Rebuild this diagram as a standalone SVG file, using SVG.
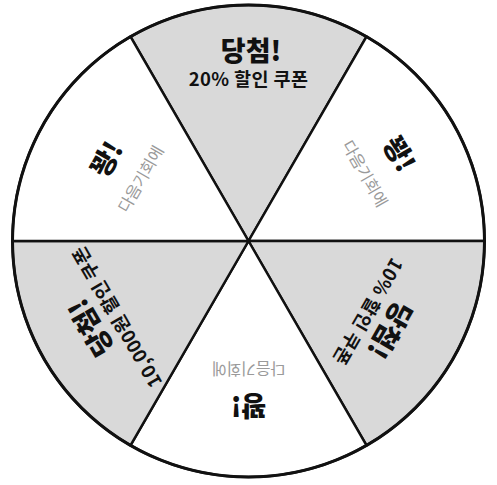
<svg xmlns="http://www.w3.org/2000/svg" width="497" height="485" viewBox="0 0 497 485">
<style>
.win{fill:#d9d9d9}
.lose{fill:#ffffff}
.seg{stroke:#111;stroke-width:2.5;stroke-linejoin:round}
.t{font-family:"Noto Sans CJK KR","Noto Sans",sans-serif;text-anchor:middle;fill:#111}
.title{font-size:27px;font-weight:900}
.sub{font-size:18.5px;font-weight:600;letter-spacing:0.4px}
.next{font-size:16px;font-weight:400;fill:#9a9a9a}
</style>
<rect width="497" height="485" fill="#fff"/>
<g id="connectors">
<path class="seg win" d="M248.5,241 L130.5,36.6 A236,236 0 0 1 366.5,36.6 Z"/>
<path class="seg lose" d="M248.5,241 L366.5,36.6 A236,236 0 0 1 484.5,241 Z"/>
<path class="seg win" d="M248.5,241 L484.5,241 A236,236 0 0 1 366.5,445.4 Z"/>
<path class="seg lose" d="M248.5,241 L366.5,445.4 A236,236 0 0 1 130.5,445.4 Z"/>
<path class="seg win" d="M248.5,241 L130.5,445.4 A236,236 0 0 1 12.5,241 Z"/>
<path class="seg lose" d="M248.5,241 L12.5,241 A236,236 0 0 1 130.5,36.6 Z"/>
<circle cx="248.5" cy="241" r="236" fill="none" stroke="#111" stroke-width="3"/>
</g>
<g id="node-top">
<text class="t title" x="251" y="60.5">당첨!</text>
<text class="t sub" x="248.5" y="86">20% 할인 쿠폰</text>
</g>
<g id="node-top-right" transform="rotate(60 248.5 241)">
<text class="t title" x="248.5" y="77">꽝!</text>
<text class="t next" x="248.5" y="112.5">다음기회에</text>
</g>
<g id="node-bottom-right" transform="rotate(120 248.5 241)">
<text class="t title" x="255" y="84">당첨!</text>
<text class="t sub" x="250" y="109">10% 할인 쿠폰</text>
</g>
<g id="node-bottom" transform="rotate(180 248.5 241)">
<text class="t title" x="248.5" y="86">꽝!</text>
<text class="t next" x="248.5" y="119.5">다음기회에</text>
</g>
<g id="node-bottom-left" transform="rotate(240 248.5 241)">
<text class="t title" x="252.5" y="71">당첨!</text>
<text class="t sub" x="248.5" y="96">10,000원 할인 쿠폰</text>
</g>
<g id="node-top-left" transform="rotate(300 248.5 241)">
<text class="t title" x="248.5" y="87">꽝!</text>
<text class="t next" x="248.5" y="122.5">다음기회에</text>
</g>
</svg>
